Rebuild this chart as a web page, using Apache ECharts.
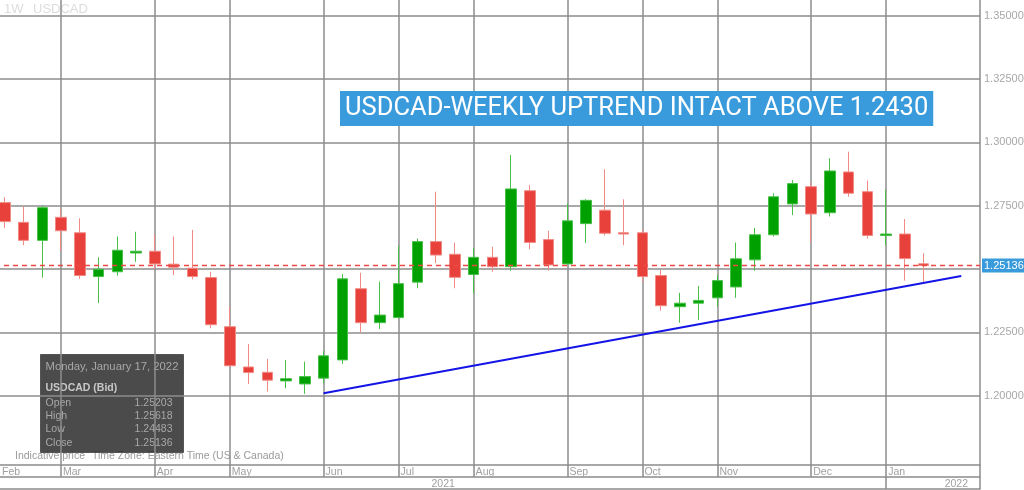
<!DOCTYPE html>
<html><head><meta charset="utf-8">
<script src="https://cdn.jsdelivr.net/npm/echarts@6/dist/echarts.min.js"></script>
<style>html,body{margin:0;padding:0;background:#fff}#c{width:1024px;height:490px}</style>
</head><body><div id="c"></div>
<script>
// weekly categories (Mondays); first and last entries are empty slots
const weeks = ['2021-02-01','2021-02-08','2021-02-15','2021-02-22','2021-03-01','2021-03-08','2021-03-15','2021-03-22','2021-03-29',
'2021-04-05','2021-04-12','2021-04-19','2021-04-26','2021-05-03','2021-05-10','2021-05-17','2021-05-24','2021-05-31',
'2021-06-07','2021-06-14','2021-06-21','2021-06-28','2021-07-05','2021-07-12','2021-07-19','2021-07-26',
'2021-08-02','2021-08-09','2021-08-16','2021-08-23','2021-08-30','2021-09-06','2021-09-13','2021-09-20','2021-09-27',
'2021-10-04','2021-10-11','2021-10-18','2021-10-25','2021-11-01','2021-11-08','2021-11-15','2021-11-22','2021-11-29',
'2021-12-06','2021-12-13','2021-12-20','2021-12-27','2022-01-03','2022-01-10','2022-01-17','2022-01-24','2022-01-31','2022-02-07'];
// candles from 2021-02-08 to 2022-01-17
const opens  = [1.2762,1.2684,1.2613,1.2704,1.2643,1.2470,1.2489,1.2563,1.2570,1.2519,1.2503,1.2466,1.2272,1.2113,1.2092,1.2058,1.2046,1.2069,
1.2141,1.2422,1.2288,1.2308,1.2448,1.2608,1.2558,1.2478,1.2546,1.2509,1.2809,1.2616,1.2520,1.2679,1.2732,1.2643,1.2643,1.2474,1.2351,1.2365,
1.2386,1.2429,1.2536,1.2635,1.2757,1.2825,1.2722,1.2883,1.2805,1.2632,1.2638,1.25203];
const closes = [1.2687,1.2613,1.2742,1.2651,1.2474,1.2499,1.2574,1.2570,1.2520,1.2507,1.2470,1.2280,1.2118,1.2091,1.2061,1.2067,1.2075,1.2157,
1.2461,1.2288,1.2318,1.2442,1.2608,1.2555,1.2467,1.2546,1.2509,1.2816,1.2605,1.2516,1.2690,1.2771,1.2641,1.2638,1.2470,1.2355,1.2365,1.2376,
1.2454,1.2540,1.2635,1.2785,1.2837,1.2717,1.2887,1.2799,1.2632,1.2638,1.2541,1.25136];
const lows   = [1.2661,1.2594,1.2466,1.2572,1.2461,1.2365,1.2474,1.2528,1.2499,1.2476,1.2459,1.2266,1.2114,1.2046,1.2016,1.2029,1.2007,1.2049,
1.2125,1.2250,1.2263,1.2305,1.2424,1.2523,1.2424,1.2404,1.2489,1.2493,1.2578,1.2493,1.2516,1.2602,1.2632,1.2594,1.2450,1.2335,1.2288,1.2299,
1.2351,1.2386,1.2493,1.2628,1.2713,1.2604,1.2707,1.2785,1.2620,1.2594,1.2454,1.24483];
const highs  = [1.2783,1.2746,1.2750,1.2736,1.2700,1.2546,1.2628,1.2647,1.2637,1.2628,1.2654,1.2489,1.2351,1.2204,1.2145,1.2141,1.2134,1.2176,
1.2480,1.2485,1.2450,1.2591,1.2620,1.2805,1.2604,1.2582,1.2588,1.2950,1.2832,1.2651,1.2759,1.2775,1.2894,1.2775,1.2654,1.2496,1.2406,1.2433,
1.2476,1.2604,1.2662,1.2799,1.2851,1.2841,1.2937,1.2963,1.2849,1.2812,1.2697,1.25618];
const firstCandle = 1;
const trendX = ['2021-06-07','2022-01-31'];
const trendY = [1.2009, 1.2472];
const monthNames = ['Jan','Feb','Mar','Apr','May','Jun','Jul','Aug','Sep','Oct','Nov','Dec'];
const yearLabels = {25:'2021', 53:'2022'};
const titleText = 'USDCAD-WEEKLY UPTREND INTACT ABOVE 1.2430';

const last = opens.length - 1;
const lastClose = closes[last];
const candleData = weeks.map((w, i) => {
  const k = i - firstCandle;
  return (k >= 0 && k < opens.length) ? [opens[k], closes[k], lows[k], highs[k]] : '-';
});
const isMonthStart = i => +weeks[i].slice(8) <= 7 && i < weeks.length - 1;
const G = '#8c8c8c', T = 'rgba(0,0,0,0)';
const labelFont = 'Liberation Sans';

const chart = echarts.init(document.getElementById('c'), null, {renderer: 'canvas'});
chart.setOption({
  animation: false,
  backgroundColor: '#fff',
  title: {
    text: titleText, left: 340, top: 91,
    backgroundColor: '#3a9bdc', padding: [4, 5, 4, 5],
    textStyle: {color: '#fff', fontSize: 25.5, fontWeight: 'normal', fontFamily: 'Roboto', lineHeight: 27}
  },
  grid: {left: -14, right: 44, top: 0, bottom: 25, containLabel: false, outerBoundsMode: 'none'},
  xAxis: [{
    type: 'category', data: weeks, boundaryGap: false,
    axisLine: {show: true, lineStyle: {color: G, width: 1.5}},
    axisTick: {show: true, length: 12, interval: i => isMonthStart(i) || i === weeks.length - 1, lineStyle: {color: G, width: 1.5}},
    axisLabel: {
      interval: i => isMonthStart(i), align: 'left', margin: 2, color: '#a0a0a0', fontSize: 10.5, fontFamily: labelFont,
      formatter: (v, i) => {
        const m = monthNames[+v.slice(5, 7) - 1];
        return i === 0 ? '{f|' + m + '}' : '{m|' + m + '}';
      },
      rich: {f: {padding: [0, 0, 0, 16], color: '#a0a0a0', fontSize: 10.5, fontFamily: labelFont},
             m: {padding: [0, 0, 0, 2], color: '#a0a0a0', fontSize: 10.5, fontFamily: labelFont}}
    },
    splitLine: {show: true, interval: i => isMonthStart(i), lineStyle: {color: G, width: 1.5}}
  }, {
    type: 'category', data: weeks, boundaryGap: false, position: 'bottom', offset: 12,
    axisLine: {show: true, lineStyle: {color: G, width: 1.5}},
    axisTick: {show: true, length: 12, interval: i => i === 48 || i === weeks.length - 1, lineStyle: {color: G, width: 1.5}},
    axisLabel: {
      interval: i => yearLabels[i] !== undefined, align: 'right', margin: 2, color: '#a0a0a0', fontSize: 10.5, fontFamily: labelFont,
      formatter: (v, i) => i === weeks.length - 1 ? '{e|' + yearLabels[i] + '}' : (yearLabels[i] || ''),
      rich: {e: {padding: [0, 12, 0, 0], color: '#a0a0a0', fontSize: 10.5, fontFamily: labelFont}}
    },
    splitLine: {show: false}
  }, {
    type: 'category', data: weeks, boundaryGap: false, position: 'bottom', offset: 24,
    axisLine: {show: true, lineStyle: {color: G, width: 1.5}},
    axisTick: {show: false}, axisLabel: {show: false}, splitLine: {show: false}
  }],
  yAxis: {
    type: 'value', position: 'right', min: 1.1726, max: 1.3562, minInterval: 0.025, maxInterval: 0.025,
    axisLine: {show: true, lineStyle: {color: G, width: 1.5}},
    axisTick: {show: false},
    axisLabel: {
      color: '#a8a8a8', fontSize: 11, fontFamily: labelFont, margin: 4, showMinLabel: false, showMaxLabel: false,
      formatter: v => (v < 1.19 || Math.abs(v - lastClose) < 0.003) ? '' : v.toFixed(5)
    },
    splitLine: {show: true, lineStyle: {color: [T, T, G, G, G, G, G, G, G, T], width: 1.5}}
  },
  series: [{
    type: 'candlestick', xAxisIndex: 0, data: candleData, barWidth: 11,
    itemStyle: {color: '#00a000', color0: '#e8403a', borderColor: '#48c048', borderColor0: '#f08a84', borderWidth: 1},
    markLine: {
      symbol: ['none', 'none'], silent: true, animation: false, precision: 5,
      lineStyle: {color: '#ee4a44', type: [5, 4], width: 1.4, opacity: 1},
      data: [
        {yAxis: lastClose, lineStyle: {color: '#ee4a44', type: [5, 4], width: 1.4, opacity: 1},
         label: {show: true, position: 'end', distance: 2, formatter: lastClose.toFixed(5), backgroundColor: '#3a9bdc',
                 color: '#fff', padding: [2, 2, 1, 2], fontSize: 11, fontFamily: labelFont}},
        [{coord: [trendX[0], trendY[0]], lineStyle: {color: '#1414e6', width: 2, type: 'solid'}, label: {show: false}},
         {coord: [trendX[1], trendY[1]]}]
      ]
    }
  }],
  graphic: [
    {type: 'text', left: 4, top: 3, style: {text: '1W', fill: '#dcdcdc', font: '13px "Liberation Sans"'}},
    {type: 'text', left: 33, top: 3, style: {text: 'USDCAD', fill: '#dcdcdc', font: '13px "Liberation Sans"'}},
    {type: 'text', left: 15, top: 451, style: {text: 'Indicative price', fill: '#9a9a9a', font: '10.5px "Liberation Sans"'}},
    {type: 'text', left: 92, top: 451, style: {text: 'Time Zone: Eastern Time (US & Canada)', fill: '#9a9a9a', font: '10.5px "Liberation Sans"'}},
    {type: 'group', left: 40, top: 354, children: [
      {type: 'rect', shape: {x: 0, y: 0, width: 143, height: 98}, style: {fill: 'rgba(45,45,45,0.86)', stroke: '#555', lineWidth: 1}},
      {type: 'text', x: 5, y: 7, style: {text: 'Monday, January 17, 2022', fill: '#a8a8a8', font: '11.3px "Liberation Sans"'}},
      {type: 'text', x: 5, y: 28, style: {text: 'USDCAD (Bid)', fill: '#c8c8c8', font: 'bold 10.5px "Liberation Sans"'}},
      {type: 'text', x: 5, y: 43, style: {text: 'Open', fill: '#a8a8a8', font: '10.5px "Liberation Sans"'}},
      {type: 'text', x: 5, y: 56, style: {text: 'High', fill: '#a8a8a8', font: '10.5px "Liberation Sans"'}},
      {type: 'text', x: 5, y: 69, style: {text: 'Low', fill: '#a8a8a8', font: '10.5px "Liberation Sans"'}},
      {type: 'text', x: 5, y: 83, style: {text: 'Close', fill: '#a8a8a8', font: '10.5px "Liberation Sans"'}},
      {type: 'text', x: 132, y: 43, style: {text: opens[last].toFixed(5), fill: '#a8a8a8', font: '10.5px "Liberation Sans"', align: 'right'}},
      {type: 'text', x: 132, y: 56, style: {text: highs[last].toFixed(5), fill: '#a8a8a8', font: '10.5px "Liberation Sans"', align: 'right'}},
      {type: 'text', x: 132, y: 69, style: {text: lows[last].toFixed(5), fill: '#a8a8a8', font: '10.5px "Liberation Sans"', align: 'right'}},
      {type: 'text', x: 132, y: 83, style: {text: closes[last].toFixed(5), fill: '#a8a8a8', font: '10.5px "Liberation Sans"', align: 'right'}}
    ]}
  ]
});
</script></body></html>
